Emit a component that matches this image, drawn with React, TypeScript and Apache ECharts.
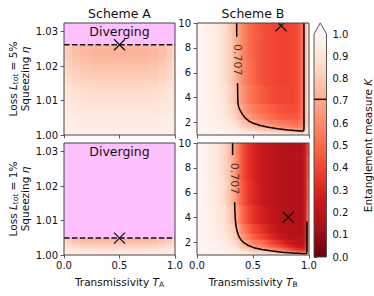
import React, { useEffect, useRef } from "react";
import * as echarts from "echarts";

// ---------------- data ----------------
// Scheme A: transmissivity columns, squeezing rows, entanglement K
const transA = [0, 0.05, 0.1, 0.2, 0.3, 0.4, 0.5, 0.6, 0.7, 0.8, 0.9, 0.95, 1.0];
const etaA5 = [1.0, 1.002, 1.004, 1.006, 1.008, 1.01, 1.012, 1.014, 1.016, 1.018, 1.02, 1.022, 1.024, 1.0262];
const kA5 = [
  [0.98, 0.975, 0.97, 0.97, 0.97, 0.97, 0.97, 0.97, 0.97, 0.97, 0.97, 0.975, 0.98],
  [0.97, 0.965, 0.96, 0.96, 0.955, 0.955, 0.955, 0.955, 0.955, 0.96, 0.96, 0.965, 0.97],
  [0.96, 0.955, 0.95, 0.94, 0.94, 0.94, 0.94, 0.94, 0.94, 0.94, 0.95, 0.955, 0.96],
  [0.95, 0.94, 0.93, 0.92, 0.92, 0.92, 0.92, 0.92, 0.92, 0.92, 0.93, 0.94, 0.95],
  [0.94, 0.93, 0.92, 0.91, 0.905, 0.905, 0.905, 0.905, 0.905, 0.91, 0.92, 0.93, 0.94],
  [0.93, 0.915, 0.9, 0.89, 0.885, 0.885, 0.885, 0.885, 0.885, 0.89, 0.9, 0.915, 0.93],
  [0.92, 0.9, 0.88, 0.87, 0.865, 0.865, 0.865, 0.865, 0.865, 0.87, 0.88, 0.9, 0.92],
  [0.91, 0.885, 0.86, 0.85, 0.845, 0.845, 0.845, 0.845, 0.845, 0.85, 0.86, 0.885, 0.91],
  [0.89, 0.865, 0.84, 0.825, 0.82, 0.82, 0.82, 0.82, 0.82, 0.825, 0.84, 0.865, 0.89],
  [0.88, 0.85, 0.82, 0.8, 0.795, 0.795, 0.795, 0.795, 0.795, 0.8, 0.82, 0.85, 0.88],
  [0.86, 0.83, 0.8, 0.78, 0.77, 0.77, 0.77, 0.77, 0.77, 0.78, 0.8, 0.83, 0.86],
  [0.85, 0.815, 0.78, 0.755, 0.745, 0.745, 0.745, 0.745, 0.745, 0.755, 0.78, 0.815, 0.85],
  [0.835, 0.8, 0.76, 0.735, 0.725, 0.725, 0.725, 0.725, 0.725, 0.735, 0.76, 0.8, 0.835],
  [0.845, 0.81, 0.77, 0.75, 0.74, 0.74, 0.74, 0.74, 0.74, 0.75, 0.77, 0.81, 0.845],
];
const etaA1 = [1.0, 1.001, 1.002, 1.003, 1.004, 1.0049];
const kA1 = [
  [0.98, 0.975, 0.97, 0.97, 0.97, 0.97, 0.97, 0.97, 0.97, 0.97, 0.97, 0.975, 0.98],
  [0.95, 0.94, 0.93, 0.92, 0.92, 0.92, 0.92, 0.92, 0.92, 0.92, 0.93, 0.94, 0.95],
  [0.92, 0.9, 0.88, 0.865, 0.86, 0.86, 0.86, 0.86, 0.86, 0.865, 0.88, 0.9, 0.92],
  [0.88, 0.85, 0.825, 0.805, 0.8, 0.8, 0.8, 0.8, 0.8, 0.805, 0.825, 0.85, 0.88],
  [0.85, 0.815, 0.78, 0.76, 0.75, 0.75, 0.75, 0.75, 0.75, 0.76, 0.78, 0.815, 0.85],
  [0.84, 0.8, 0.76, 0.74, 0.73, 0.73, 0.73, 0.73, 0.73, 0.74, 0.76, 0.8, 0.84],
];
const divergeA5 = 1.0262;
const divergeA1 = 1.0049;
const etaRangeA = [1.0, 1.0325];

// Scheme B
const transB = [0, 0.05, 0.1, 0.15, 0.2, 0.25, 0.3, 0.35, 0.4, 0.45, 0.5, 0.55, 0.6, 0.65, 0.7, 0.75, 0.8, 0.85, 0.9, 0.95, 0.975, 1.0];
const etaB = [1.0, 1.15, 1.3, 1.5, 1.75, 2.0, 2.5, 3.0, 4.0, 6.0, 8.0, 10];
const etaRangeB = [1.0, 10];
const kB5 = [
  [1, 1, 1, 1, 1, 1, 1, 1, 1, 1, 1, 1, 1, 1, 1, 1, 1, 1, 1, 1, 1, 1],
  [1, 1, 1, 1, 0.99, 0.99, 0.98, 0.97, 0.96, 0.94, 0.94, 0.92, 0.92, 0.9, 0.9, 0.89, 0.87, 0.87, 0.85, 0.84, 0.95, 0.97],
  [1, 1, 0.99, 0.99, 0.99, 0.98, 0.96, 0.95, 0.92, 0.9, 0.88, 0.86, 0.85, 0.82, 0.81, 0.79, 0.77, 0.76, 0.74, 0.74, 0.9, 0.94],
  [1, 1, 0.99, 0.99, 0.98, 0.96, 0.94, 0.92, 0.88, 0.84, 0.82, 0.78, 0.77, 0.74, 0.72, 0.69, 0.67, 0.66, 0.63, 0.66, 0.85, 0.91],
  [1, 0.995, 0.99, 0.98, 0.97, 0.95, 0.92, 0.89, 0.83, 0.78, 0.75, 0.71, 0.69, 0.65, 0.64, 0.61, 0.58, 0.57, 0.55, 0.6, 0.82, 0.89],
  [1, 0.99, 0.99, 0.98, 0.96, 0.94, 0.9, 0.86, 0.79, 0.73, 0.7, 0.65, 0.63, 0.59, 0.57, 0.54, 0.52, 0.51, 0.5, 0.58, 0.8, 0.88],
  [1, 0.99, 0.98, 0.97, 0.95, 0.92, 0.87, 0.82, 0.73, 0.66, 0.62, 0.57, 0.55, 0.51, 0.49, 0.47, 0.45, 0.45, 0.45, 0.56, 0.8, 0.88],
  [1, 0.99, 0.98, 0.96, 0.94, 0.9, 0.85, 0.79, 0.69, 0.62, 0.57, 0.52, 0.5, 0.47, 0.45, 0.43, 0.42, 0.42, 0.43, 0.55, 0.8, 0.88],
  [1, 0.99, 0.97, 0.96, 0.93, 0.89, 0.83, 0.75, 0.65, 0.57, 0.52, 0.48, 0.45, 0.43, 0.41, 0.4, 0.4, 0.4, 0.42, 0.55, 0.8, 0.88],
  [1, 0.99, 0.97, 0.95, 0.92, 0.87, 0.81, 0.725, 0.62, 0.54, 0.49, 0.45, 0.43, 0.41, 0.4, 0.39, 0.39, 0.4, 0.42, 0.55, 0.8, 0.88],
  [1, 0.99, 0.97, 0.95, 0.92, 0.87, 0.8, 0.72, 0.61, 0.53, 0.48, 0.45, 0.43, 0.41, 0.4, 0.39, 0.39, 0.4, 0.42, 0.55, 0.8, 0.88],
  [1, 0.99, 0.97, 0.95, 0.92, 0.87, 0.8, 0.715, 0.61, 0.53, 0.48, 0.45, 0.43, 0.41, 0.4, 0.39, 0.39, 0.4, 0.42, 0.55, 0.8, 0.88],
];
const kB1 = [
  [1, 1, 1, 1, 1, 1, 1, 1, 1, 1, 1, 1, 1, 1, 1, 1, 1, 1, 1, 1, 1, 1],
  [1, 1, 1, 1, 0.99, 0.99, 0.98, 0.97, 0.95, 0.93, 0.91, 0.9, 0.88, 0.86, 0.83, 0.81, 0.77, 0.72, 0.67, 0.62, 0.65, 0.95],
  [1, 1, 1, 0.99, 0.99, 0.98, 0.96, 0.95, 0.9, 0.87, 0.83, 0.81, 0.78, 0.74, 0.7, 0.66, 0.6, 0.53, 0.48, 0.42, 0.45, 0.9],
  [1, 1, 0.99, 0.99, 0.98, 0.96, 0.94, 0.92, 0.84, 0.8, 0.74, 0.72, 0.67, 0.62, 0.57, 0.52, 0.45, 0.38, 0.33, 0.29, 0.38, 0.85],
  [1, 1, 0.99, 0.98, 0.97, 0.95, 0.92, 0.88, 0.78, 0.73, 0.65, 0.62, 0.57, 0.5, 0.45, 0.39, 0.33, 0.27, 0.24, 0.23, 0.35, 0.82],
  [1, 0.99, 0.99, 0.98, 0.96, 0.94, 0.9, 0.85, 0.73, 0.66, 0.58, 0.54, 0.49, 0.42, 0.36, 0.32, 0.26, 0.22, 0.2, 0.2, 0.33, 0.8],
  [1, 0.99, 0.98, 0.97, 0.95, 0.92, 0.86, 0.8, 0.65, 0.57, 0.48, 0.43, 0.38, 0.32, 0.27, 0.24, 0.2, 0.18, 0.18, 0.19, 0.31, 0.77],
  [1, 0.99, 0.98, 0.96, 0.94, 0.9, 0.84, 0.76, 0.59, 0.5, 0.41, 0.37, 0.32, 0.27, 0.23, 0.2, 0.18, 0.17, 0.17, 0.19, 0.3, 0.75],
  [1, 0.99, 0.98, 0.95, 0.92, 0.88, 0.8, 0.7, 0.52, 0.42, 0.35, 0.3, 0.26, 0.23, 0.2, 0.18, 0.17, 0.17, 0.17, 0.19, 0.3, 0.72],
  [1, 0.99, 0.97, 0.94, 0.91, 0.85, 0.76, 0.64, 0.47, 0.37, 0.31, 0.27, 0.23, 0.21, 0.19, 0.18, 0.17, 0.17, 0.17, 0.19, 0.3, 0.66],
  [1, 0.99, 0.97, 0.94, 0.9, 0.84, 0.75, 0.62, 0.45, 0.35, 0.3, 0.26, 0.23, 0.21, 0.19, 0.18, 0.17, 0.17, 0.17, 0.19, 0.3, 0.58],
  [1, 0.99, 0.97, 0.94, 0.9, 0.84, 0.74, 0.61, 0.45, 0.35, 0.3, 0.26, 0.23, 0.21, 0.19, 0.18, 0.17, 0.17, 0.17, 0.19, 0.3, 0.5],
];

// contour K = 0.707 (split around the inline label)
const contourLevel = 0.707;
const contour5Upper = [[0.354, 10], [0.355, 8.9]];
const contour5Lower = [
  [0.362, 5.15], [0.363, 4.5], [0.364, 4.0], [0.366, 3.55], [0.372, 3.25], [0.384, 3.0], [0.405, 2.68],
  [0.429, 2.39], [0.465, 2.12], [0.503, 1.94], [0.565, 1.76], [0.637, 1.62], [0.72, 1.5], [0.815, 1.4],
  [0.87, 1.355], [0.92, 1.325], [0.943, 1.32], [0.952, 1.35], [0.955, 1.5], [0.955, 10],
];
const contour1Upper = [[0.318, 10], [0.318, 9.03]];
const contour1Lower = [
  [0.336, 5.24], [0.338, 4.6], [0.342, 3.9], [0.348, 3.35], [0.358, 2.9], [0.372, 2.54], [0.392, 2.22],
  [0.417, 2.0], [0.46, 1.76], [0.507, 1.59], [0.58, 1.44], [0.673, 1.32], [0.76, 1.23], [0.853, 1.16],
  [0.93, 1.115], [0.965, 1.1], [0.978, 1.12], [0.982, 1.25], [0.982, 3.7],
];
const contourLabel5 = [0.36, 7.05];
const contourLabel1 = [0.333, 7.14];

// cross markers
const markA5 = [0.5, 1.0262];
const markA1 = [0.5, 1.0049];
const markB5 = [0.75, 9.78];
const markB1 = [0.815, 4.03];

// tick values
const ticksT = [0, 0.5, 1];
const ticksEtaA = [1.0, 1.01, 1.02, 1.03];
const ticksEtaB = [2, 4, 6, 8, 10];
const colorbarRange = [0, 1];

// ---------------- styles / helpers ----------------
const FONT = "'DejaVu Sans', sans-serif";
const TXT = "#111";
const REDS = ["#fff5f0", "#fee0d2", "#fcbba1", "#fc9272", "#fb6a4a", "#ef3b2c", "#cb181d", "#a50f15", "#67000d"];
const REDS_RGB = REDS.map((h) => [parseInt(h.slice(1, 3), 16), parseInt(h.slice(3, 5), 16), parseInt(h.slice(5, 7), 16)]);
const DIVERGE_COLOR = "#ffc0ff";

function cmap(k: number): string {
  const t = Math.min(1, Math.max(0, 1 - k)) * 8;
  const i = Math.min(7, Math.floor(t));
  const f = t - i;
  const a = REDS_RGB[i], b = REDS_RGB[i + 1];
  return `rgb(${Math.round(a[0] + (b[0] - a[0]) * f)},${Math.round(a[1] + (b[1] - a[1]) * f)},${Math.round(a[2] + (b[2] - a[2]) * f)})`;
}

function cellsAlongX(xs: number[], ys: number[], K: number[][]) {
  const out: number[][] = [];
  for (let j = 0; j < ys.length; j++) {
    const y0 = j === 0 ? ys[0] : (ys[j - 1] + ys[j]) / 2;
    const y1 = j === ys.length - 1 ? ys[j] : (ys[j] + ys[j + 1]) / 2;
    for (let i = 0; i < xs.length - 1; i++) out.push([xs[i], xs[i + 1], y0, y1, K[j][i], K[j][i + 1], 0]);
  }
  return out;
}
function cellsAlongY(xs: number[], ys: number[], K: number[][]) {
  const out: number[][] = [];
  for (let i = 0; i < xs.length; i++) {
    const x0 = i === 0 ? xs[0] : (xs[i - 1] + xs[i]) / 2;
    const x1 = i === xs.length - 1 ? xs[i] : (xs[i] + xs[i + 1]) / 2;
    for (let j = 0; j < ys.length - 1; j++) out.push([x0, x1, ys[j], ys[j + 1], K[j][i], K[j + 1][i], 1]);
  }
  return out;
}

const cellRender = (_p: any, api: any) => {
  const x0 = api.value(0), x1 = api.value(1), y0 = api.value(2), y1 = api.value(3);
  const k0 = api.value(4), k1 = api.value(5), dir = api.value(6);
  const a = api.coord([x0, y1]);
  const b = api.coord([x1, y0]);
  const stops = [{ offset: 0, color: cmap(k0) }, { offset: 1, color: cmap(k1) }];
  const fill = dir === 0 ? new echarts.graphic.LinearGradient(0, 0, 1, 0, stops) : new echarts.graphic.LinearGradient(0, 1, 0, 0, stops);
  return {
    type: "rect",
    shape: { x: a[0] - 0.35, y: a[1] - 0.35, width: b[0] - a[0] + 0.7, height: b[1] - a[1] + 0.7 },
    style: { fill, stroke: null, lineWidth: 0 },
    silent: true,
  };
};

const divergeRender = (_p: any, api: any) => {
  const a = api.coord([api.value(0), api.value(3)]);
  const b = api.coord([api.value(1), api.value(2)]);
  return {
    type: "group",
    children: [
      { type: "rect", shape: { x: a[0], y: a[1], width: b[0] - a[0], height: b[1] - a[1] + 0.5 }, style: { fill: DIVERGE_COLOR } },
      {
        type: "text",
        x: (a[0] + b[0]) / 2,
        y: a[1] + 2,
        style: {
          text: "Diverging", fill: TXT, fontSize: 12.5, fontFamily: FONT,
          align: "center", verticalAlign: "top", textAlign: "center", textVerticalAlign: "top",
        },
      },
    ],
  };
};

const markerRender = (_p: any, api: any) => {
  const p = api.coord([api.value(0), api.value(1)]);
  const h = 5.5;
  const st = { stroke: "#111", lineWidth: 1.3 };
  return {
    type: "group",
    children: [
      { type: "line", shape: { x1: p[0] - h, y1: p[1] - h, x2: p[0] + h, y2: p[1] + h }, style: st },
      { type: "line", shape: { x1: p[0] - h, y1: p[1] + h, x2: p[0] + h, y2: p[1] - h }, style: st },
    ],
  };
};

const colorbarRender = (_p: any, api: any) => {
  const top = api.coord([0, colorbarRange[1]]);
  const bot = api.coord([1, colorbarRange[0]]);
  const x0 = top[0], x1 = bot[0], y0 = top[1], y1 = bot[1];
  const ext = (y1 - y0) * 0.05;
  const lvl = api.coord([0, contourLevel])[1];
  const stops = REDS.map((c, i) => ({ offset: i / (REDS.length - 1), color: c }));
  return {
    type: "group",
    children: [
      { type: "rect", shape: { x: x0, y: y0, width: x1 - x0, height: y1 - y0 }, style: { fill: new echarts.graphic.LinearGradient(0, 0, 0, 1, stops) } },
      { type: "polygon", shape: { points: [[x0, y0 + 0.3], [x1, y0 + 0.3], [(x0 + x1) / 2, y0 - ext]] }, style: { fill: REDS[0] } },
      { type: "line", shape: { x1: x0, y1: lvl, x2: x1, y2: lvl }, style: { stroke: "#000", lineWidth: 1.5 } },
      {
        type: "polygon",
        shape: { points: [[x0, y1], [x0, y0], [(x0 + x1) / 2, y0 - ext], [x1, y0], [x1, y1]] },
        style: { fill: "none", stroke: "#444", lineWidth: 0.9 },
      },
    ],
  };
};

// ---------------- layout ----------------
const GRIDS = [
  { left: 64, top: 23, width: 111, height: 112 },
  { left: 197, top: 23, width: 112, height: 112 },
  { left: 64, top: 143, width: 111, height: 112 },
  { left: 197, top: 143, width: 112, height: 112 },
  { left: 314, top: 34, width: 13, height: 223 },
];

const tickStyle = { show: true, inside: false, length: 3.5, lineStyle: { color: "#333", width: 0.8 } };
const labelBase = { fontSize: 10, fontFamily: FONT, color: TXT };
const nameRich = {
  n: { fontSize: 10.5, fontFamily: FONT, color: TXT, lineHeight: 12 },
  i: { fontSize: 10.5, fontFamily: FONT, color: TXT, fontStyle: "italic", lineHeight: 12 },
  s: { fontSize: 7.5, fontFamily: FONT, color: TXT, lineHeight: 8, verticalAlign: "bottom" },
};

function xAxisCfg(gridIndex: number, withLabels: boolean, sub: string) {
  return {
    type: "value", gridIndex, min: 0, max: 1, interval: 0.5,
    axisLine: { show: false },
    axisTick: { ...tickStyle, customValues: ticksT },
    axisLabel: { ...labelBase, show: withLabels, margin: 5, customValues: ticksT, formatter: (v: number) => v.toFixed(1) },
    splitLine: { show: false },
    name: withLabels ? `{n|Transmissivity }{i|T}{s|${sub}}` : "",
    nameLocation: "middle", nameGap: 21,
    nameTextStyle: { fontSize: 10.5, fontFamily: FONT, color: TXT, rich: nameRich },
  };
}
function yAxisA(gridIndex: number, loss: string) {
  return {
    type: "value", gridIndex, min: etaRangeA[0], max: etaRangeA[1],
    axisLine: { show: false },
    axisTick: { ...tickStyle, customValues: ticksEtaA },
    axisLabel: { ...labelBase, margin: 6, customValues: ticksEtaA, formatter: (v: number) => v.toFixed(2) },
    splitLine: { show: false },
    name: `{n|Loss }{i|L}{s|tot}{n| = ${loss}}\n{n|Squeezing }{i|η}`,
    nameLocation: "middle", nameGap: 33, nameRotate: 90,
    nameTextStyle: { fontSize: 10.5, fontFamily: FONT, color: TXT, rich: nameRich, lineHeight: 12 },
  };
}
function yAxisB(gridIndex: number) {
  return {
    type: "value", gridIndex, min: etaRangeB[0], max: etaRangeB[1],
    axisLine: { show: false },
    axisTick: { ...tickStyle, customValues: ticksEtaB },
    axisLabel: { ...labelBase, margin: 6, customValues: ticksEtaB, formatter: (v: number) => String(v) },
    splitLine: { show: false },
  };
}

function panelSeries(idx: number, extra: any[]) {
  return extra.map((s) => ({ xAxisIndex: idx, yAxisIndex: idx, ...s }));
}

function buildOption() {
  const heat = (data: number[][]) => ({ type: "custom", renderItem: cellRender, data, z: 1, clip: true, silent: true });
  const diverge = (thr: number) => ({ type: "custom", renderItem: divergeRender, data: [[transA[0], transA[transA.length - 1], thr, etaRangeA[1]]], z: 2, clip: true, silent: true });
  const dashed = (thr: number) => ({
    type: "line", data: [[transA[0], thr], [transA[transA.length - 1], thr]], symbol: "none", z: 3, silent: true,
    lineStyle: { color: "#111", width: 1.5, type: [5.5, 2.4] },
  });
  const marker = (pt: number[]) => ({ type: "custom", renderItem: markerRender, data: [pt], z: 6, clip: true, silent: true });
  const contour = (pts: number[][]) => ({ type: "line", data: pts, symbol: "none", z: 4, silent: true, lineStyle: { color: "#000", width: 1.5 } });
  const clabel = (pt: number[]) => ({
    type: "scatter", data: [pt], symbolSize: 0, z: 5, silent: true,
    label: { show: true, position: "inside", rotate: -90, formatter: () => String(contourLevel), fontSize: 11, fontFamily: FONT, color: TXT },
  });

  const series = [
    ...panelSeries(0, [heat(cellsAlongY(transA, etaA5, kA5)), diverge(divergeA5), dashed(divergeA5), marker(markA5)]),
    ...panelSeries(1, [heat(cellsAlongX(transB, etaB, kB5)), contour(contour5Upper), contour(contour5Lower), clabel(contourLabel5), marker(markB5)]),
    ...panelSeries(2, [heat(cellsAlongY(transA, etaA1, kA1)), diverge(divergeA1), dashed(divergeA1), marker(markA1)]),
    ...panelSeries(3, [heat(cellsAlongX(transB, etaB, kB1)), contour(contour1Upper), contour(contour1Lower), clabel(contourLabel1), marker(markB1)]),
    { type: "custom", xAxisIndex: 4, yAxisIndex: 4, renderItem: colorbarRender, data: [[0]], z: 2, silent: true },
  ];

  return {
    animation: false,
    backgroundColor: "#fff",
    grid: GRIDS.map((g, i) => ({
      ...g, containLabel: false, show: i < 4, borderColor: "#444", borderWidth: 1, backgroundColor: "transparent", z: 10,
    })),
    xAxis: [
      xAxisCfg(0, false, "A"), xAxisCfg(1, false, "B"), xAxisCfg(2, true, "A"), xAxisCfg(3, true, "B"),
      { type: "value", gridIndex: 4, min: 0, max: 1, show: false },
    ],
    yAxis: [
      yAxisA(0, "5%"), yAxisB(1), yAxisA(2, "1%"), yAxisB(3),
      {
        type: "value", gridIndex: 4, min: colorbarRange[0], max: colorbarRange[1], interval: 0.1, position: "right",
        axisLine: { show: false },
        axisTick: tickStyle,
        axisLabel: { ...labelBase, margin: 6, formatter: (v: number) => v.toFixed(1) },
        splitLine: { show: false },
        name: "{n|Entanglement measure }{i|K}",
        nameLocation: "middle", nameGap: 35, nameRotate: 90,
        nameTextStyle: { fontSize: 10.5, fontFamily: FONT, color: TXT, rich: nameRich },
      },
    ],
    graphic: [
      { type: "text", x: GRIDS[0].left + GRIDS[0].width / 2, y: 13, style: { text: "Scheme A", fontSize: 12.5, fontFamily: FONT, fill: TXT, textAlign: "center", textVerticalAlign: "middle", align: "center", verticalAlign: "middle" } },
      { type: "text", x: GRIDS[1].left + GRIDS[1].width / 2, y: 13, style: { text: "Scheme B", fontSize: 12.5, fontFamily: FONT, fill: TXT, textAlign: "center", textVerticalAlign: "middle", align: "center", verticalAlign: "middle" } },
    ],
    series,
  };
}

export default function App() {
  const ref = useRef<HTMLDivElement>(null);
  useEffect(() => {
    if (!ref.current) return;
    const chart = echarts.init(ref.current, undefined, { renderer: "svg" });
    chart.setOption(buildOption() as any);
    return () => chart.dispose();
  }, []);
  return <div ref={ref} style={{ position: "absolute", left: 0, top: 0, width: 374, height: 296 }} />;
}
